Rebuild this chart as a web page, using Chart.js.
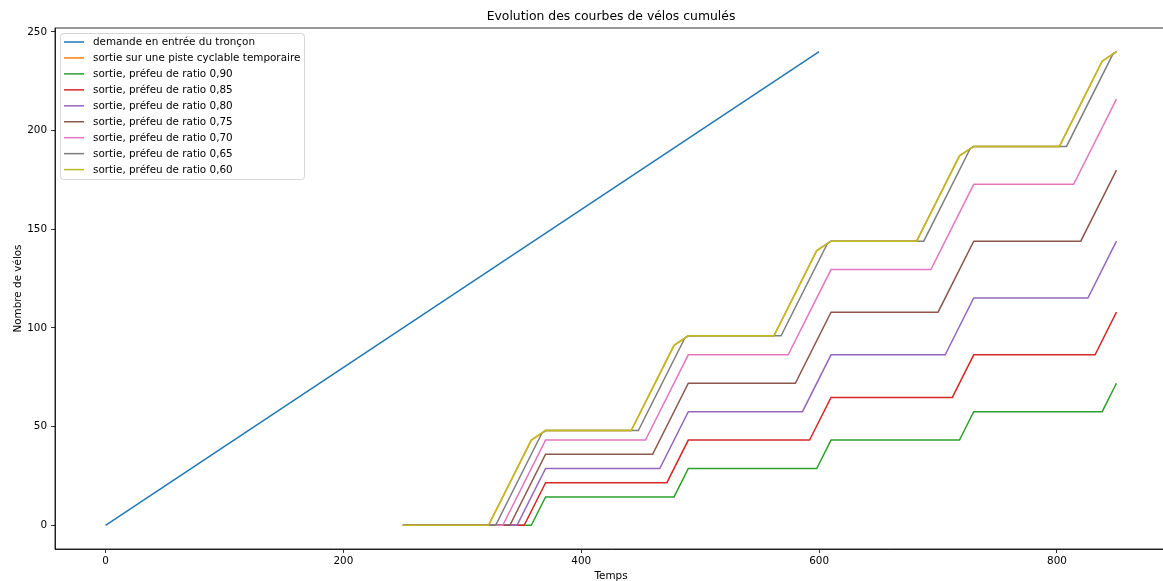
<!DOCTYPE html>
<html>
<head>
<meta charset="utf-8">
<script src="https://cdn.jsdelivr.net/npm/chart.js@4/dist/chart.umd.min.js"></script>
<style>
html,body{margin:0;padding:0;background:#fff;overflow:hidden;}
#wrap{position:relative;width:1168px;height:581px;}
</style>
</head>
<body>
<div id="wrap"><canvas id="c"></canvas></div>
<script>
// ---- data ----
const chartTitle = "Evolution des courbes de vélos cumulés";
const xAxisTitle = "Temps";
const yAxisTitle = "Nombre de vélos";
const xTickValues = [0, 200, 400, 600, 800];
const yTickValues = [0, 50, 100, 150, 200, 250];

const seriesLabels = [
  "demande en entrée du tronçon",
  "sortie sur une piste cyclable temporaire",
  "sortie, préfeu de ratio 0,90",
  "sortie, préfeu de ratio 0,85",
  "sortie, préfeu de ratio 0,80",
  "sortie, préfeu de ratio 0,75",
  "sortie, préfeu de ratio 0,70",
  "sortie, préfeu de ratio 0,65",
  "sortie, préfeu de ratio 0,60"
];
const seriesColors = ["#1f77b4","#ff7f0e","#2ca02c","#d62728","#9467bd","#8c564b","#e377c2","#7f7f7f","#bcbd22"];

const tDemande = [0, 600];
const yDemande = [0, 240];

const tPiste = [250, 322, 358, 370, 442, 478, 490, 562, 598, 610, 682, 718, 730, 802, 838, 850];
const yPiste = [0, 0, 43.2, 48, 48, 91.2, 96, 96, 139.2, 144, 144, 187.2, 192, 192, 235.2, 240];

const t090 = [250, 358, 370, 478, 490, 598, 610, 718, 730, 838, 850];
const y090 = [0, 0, 14.4, 14.4, 28.8, 28.8, 43.2, 43.2, 57.6, 57.6, 72];

const t085 = [250, 352, 370, 472, 490, 592, 610, 712, 730, 832, 850];
const y085 = [0, 0, 21.6, 21.6, 43.2, 43.2, 64.8, 64.8, 86.4, 86.4, 108];

const t080 = [250, 346, 370, 466, 490, 586, 610, 706, 730, 826, 850];
const y080 = [0, 0, 28.8, 28.8, 57.6, 57.6, 86.4, 86.4, 115.2, 115.2, 144];

const t075 = [250, 340, 370, 460, 490, 580, 610, 700, 730, 820, 850];
const y075 = [0, 0, 36, 36, 72, 72, 108, 108, 144, 144, 180];

const t070 = [250, 334, 370, 454, 490, 574, 610, 694, 730, 814, 850];
const y070 = [0, 0, 43.2, 43.2, 86.4, 86.4, 129.6, 129.6, 172.8, 172.8, 216];

const t065 = [250, 328, 367, 370, 448, 487, 490, 568, 607, 610, 688, 727, 730, 808, 847, 850];
const y065 = [0, 0, 46.8, 48, 48, 94.8, 96, 96, 142.8, 144, 144, 190.8, 192, 192, 238.8, 240];

const t060 = [250, 322, 358, 370, 442, 478, 490, 562, 598, 610, 682, 718, 730, 802, 838, 850];
const y060 = [0, 0, 43.2, 48, 48, 91.2, 96, 96, 139.2, 144, 144, 187.2, 192, 192, 235.2, 240];

const seriesT = [tDemande, tPiste, t090, t085, t080, t075, t070, t065, t060];
const seriesY = [yDemande, yPiste, y090, y085, y080, y075, y070, y065, y060];

// ---- chart ----
const FONT = "'DejaVu Sans', sans-serif";
const FS = 10.4;
const datasets = seriesLabels.map((lab, i) => ({
  label: lab,
  data: seriesT[i].map((t, k) => ({x: t, y: seriesY[i][k]})),
  borderColor: seriesColors[i],
  backgroundColor: seriesColors[i],
  borderWidth: 1.5,
  pointRadius: 0,
  pointHoverRadius: 0,
  tension: 0,
  fill: false,
  order: seriesLabels.length - i
}));

const decorPlugin = {
  id: 'decor',
  afterDraw(chart) {
    const ctx = chart.ctx;
    const a = chart.chartArea;
    ctx.save();
    // spines
    ctx.strokeStyle = '#000';
    ctx.lineWidth = 0.8;
    ctx.strokeRect(a.left, a.top, a.right - a.left, a.bottom - a.top);
    // title
    ctx.fillStyle = '#000';
    ctx.font = "12.4px " + FONT;
    ctx.textAlign = 'center';
    ctx.textBaseline = 'middle';
    ctx.fillText(chartTitle, (a.left + a.right) / 2, 17);
    // axis titles
    ctx.font = FS + "px " + FONT;
    ctx.fillText(xAxisTitle, (a.left + a.right) / 2, 576);
    ctx.translate(18, (a.top + a.bottom) / 2);
    ctx.rotate(-Math.PI / 2);
    ctx.fillText(yAxisTitle, 0, 0);
    ctx.restore();

    // legend
    ctx.save();
    const bx = 60.5, by = 33.5, bw = 244, bh = 146, r = 3;
    ctx.fillStyle = 'rgba(255,255,255,0.8)';
    ctx.strokeStyle = 'rgba(204,204,204,0.8)';
    ctx.lineWidth = 1;
    ctx.beginPath();
    ctx.moveTo(bx + r, by);
    ctx.lineTo(bx + bw - r, by);
    ctx.quadraticCurveTo(bx + bw, by, bx + bw, by + r);
    ctx.lineTo(bx + bw, by + bh - r);
    ctx.quadraticCurveTo(bx + bw, by + bh, bx + bw - r, by + bh);
    ctx.lineTo(bx + r, by + bh);
    ctx.quadraticCurveTo(bx, by + bh, bx, by + bh - r);
    ctx.lineTo(bx, by + r);
    ctx.quadraticCurveTo(bx, by, bx + r, by);
    ctx.closePath();
    ctx.fill();
    ctx.stroke();
    ctx.font = FS + "px " + FONT;
    ctx.textAlign = 'left';
    ctx.textBaseline = 'middle';
    chart.data.datasets.forEach((ds, i) => {
      const yy = 42 + i * 15.95;
      ctx.strokeStyle = ds.borderColor;
      ctx.lineWidth = 1.5;
      ctx.beginPath();
      ctx.moveTo(64, yy);
      ctx.lineTo(84, yy);
      ctx.stroke();
      ctx.fillStyle = '#000';
      ctx.fillText(ds.label, 93, yy + 0.5);
    });
    ctx.restore();
  }
};

new Chart(document.getElementById('c'), {
  type: 'line',
  data: { datasets },
  options: {
    responsive: true,
    maintainAspectRatio: false,
    animation: false,
    events: [],
    layout: { padding: { left: 0, top: 28, right: 1, bottom: 0 } },
    plugins: { legend: { display: false }, title: { display: false }, tooltip: { enabled: false } },
    scales: {
      x: {
        type: 'linear',
        min: -42.5,
        max: 892.5,
        afterBuildTicks: s => { s.ticks = xTickValues.map(v => ({value: v})); },
        afterFit: s => { s.height = 32; },
        grid: { display: true, drawOnChartArea: false, drawTicks: true, tickLength: 4, color: '#000', lineWidth: 0.8 },
        border: { display: true, color: '#000', width: 0.8 },
        ticks: { color: '#000', font: { family: FONT, size: FS }, padding: 2, maxRotation: 0, autoSkip: false }
      },
      y: {
        type: 'linear',
        min: -12,
        max: 252,
        afterBuildTicks: s => { s.ticks = yTickValues.map(v => ({value: v})); },
        afterFit: s => { s.width = 55; },
        grid: { display: true, drawOnChartArea: false, drawTicks: true, tickLength: 4, color: '#000', lineWidth: 0.8 },
        border: { display: true, color: '#000', width: 0.8 },
        ticks: { color: '#000', font: { family: FONT, size: FS }, padding: 4, autoSkip: false }
      }
    }
  },
  plugins: [decorPlugin]
});
</script>
</body>
</html>
